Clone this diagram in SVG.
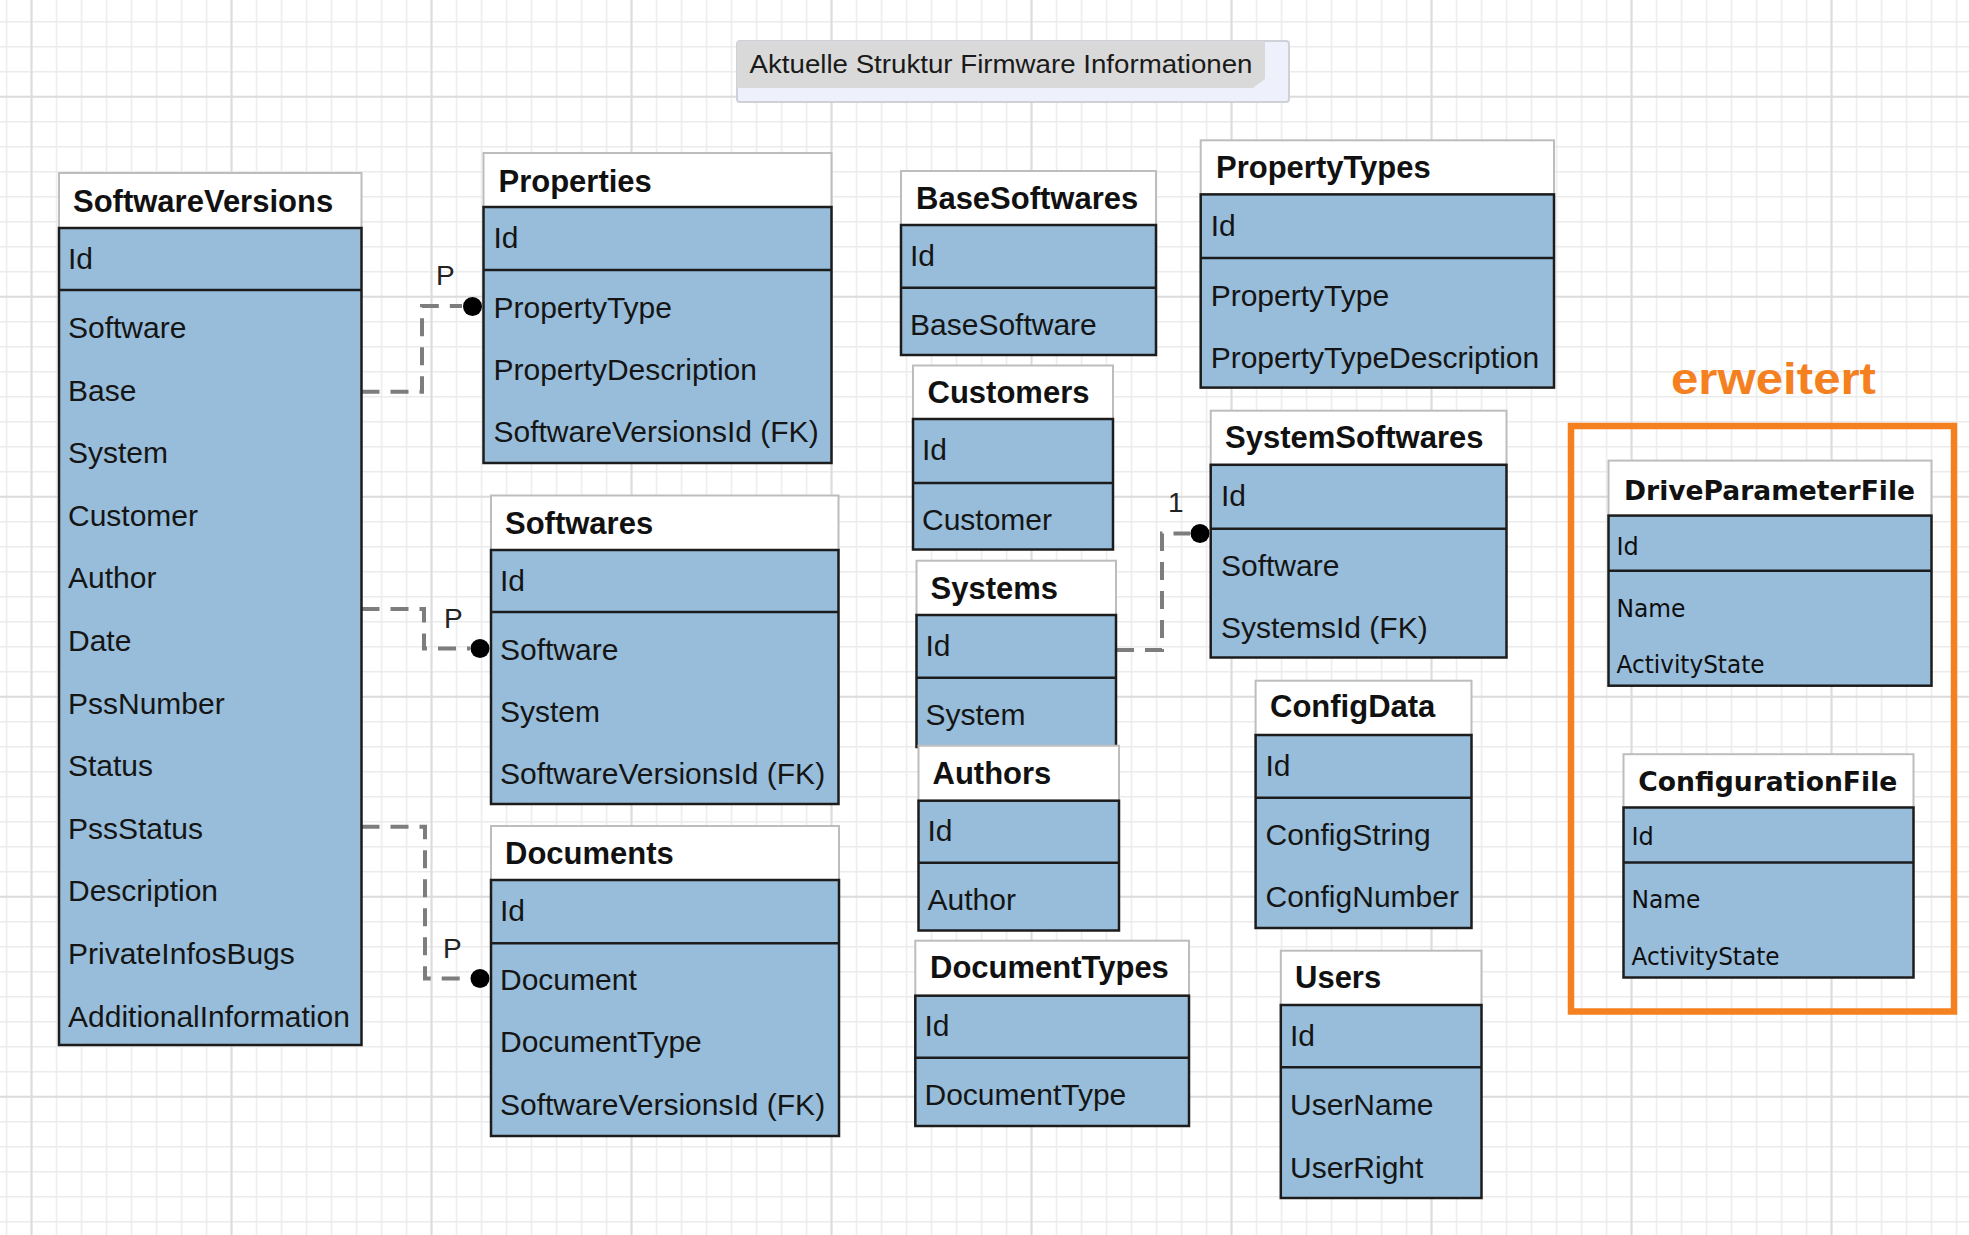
<svg xmlns="http://www.w3.org/2000/svg" width="1969" height="1235" viewBox="0 0 1969 1235">
<defs>
<style>
.hdr{fill:#ffffff;stroke:#bdbdbd;stroke-width:2}
.body{fill:#97bdda;stroke:#1c1c1c;stroke-width:2.5}
.sep{stroke:#1c1c1c;stroke-width:2.5}
.t{font-family:"Liberation Sans",Arial,sans-serif;font-weight:bold;font-size:31px;fill:#111}
.f{font-family:"Liberation Sans",Arial,sans-serif;font-size:30px;fill:#151515}
.t2{font-family:"DejaVu Sans",Verdana,sans-serif;font-weight:bold;font-size:26.5px;fill:#111}
.f2{font-family:"DejaVu Sans",Verdana,sans-serif;font-size:24px;fill:#0f0f0f}
.conn{fill:none;stroke:#7d7d7d;stroke-width:4;stroke-dasharray:18 11}
.dot{fill:#000}
.lbl{font-family:"Liberation Sans",Arial,sans-serif;font-size:28px;fill:#222}
</style>
<pattern id="gMinor" x="5.75" y="21" width="25" height="25" patternUnits="userSpaceOnUse"><path d="M0 0.75H25M0.75 0V25" stroke="#ebebeb" stroke-width="1.5" fill="none"/></pattern>
<pattern id="gMajor" x="30.5" y="95.7" width="200" height="200" patternUnits="userSpaceOnUse"><path d="M0 1H200M1 0V200" stroke="#dcdcdc" stroke-width="2" fill="none"/></pattern>
</defs>
<rect width="1969" height="1235" fill="#ffffff"/>
<rect width="1969" height="1235" fill="url(#gMinor)"/>
<rect width="1969" height="1235" fill="url(#gMajor)"/>

<g id="title">
<rect x="737" y="41" width="552" height="61" rx="3" fill="#eef0fb" stroke="#cfd0d8" stroke-width="2"/>
<path d="M737 41H1265V79L1253 88H737Z" fill="#d9d9d9"/>
<text x="749.5" y="73.3" font-family="Liberation Sans, Arial, sans-serif" font-size="25" fill="#1a1a1a" textLength="503" lengthAdjust="spacingAndGlyphs">Aktuelle Struktur Firmware Informationen</text>
</g>

<g id="connectors">
<path class="conn" d="M361.5 391.7H422V306H462"/>
<circle class="dot" cx="472.5" cy="306.5" r="9.5"/>
<text class="lbl" x="436" y="285">P</text>
<path class="conn" d="M361.5 609H424V648.5H470"/>
<circle class="dot" cx="480" cy="648.5" r="9.5"/>
<text class="lbl" x="444" y="628.3">P</text>
<path class="conn" d="M361.5 826.7H425V978.5H470"/>
<circle class="dot" cx="480" cy="978.5" r="9.5"/>
<text class="lbl" x="443" y="958.3">P</text>
<path class="conn" d="M1116 650H1162V533.5H1190"/>
<circle class="dot" cx="1200" cy="533.5" r="9.5"/>
<text class="lbl" x="1168" y="512">1</text>
</g>

<g id="SoftwareVersions">
<rect class="hdr" x="59" y="173" width="302.5" height="55"/>
<rect class="body" x="59" y="228" width="302.5" height="817"/>
<line class="sep" x1="59" y1="290" x2="361.5" y2="290"/>
<text class="t" x="73" y="211.5">SoftwareVersions</text>
<text class="f" x="68" y="268.5">Id</text>
<text class="f" x="68" y="338">Software</text>
<text class="f" x="68" y="400.6">Base</text>
<text class="f" x="68" y="463.2">System</text>
<text class="f" x="68" y="525.8">Customer</text>
<text class="f" x="68" y="588.4">Author</text>
<text class="f" x="68" y="651">Date</text>
<text class="f" x="68" y="713.6">PssNumber</text>
<text class="f" x="68" y="776.2">Status</text>
<text class="f" x="68" y="838.8">PssStatus</text>
<text class="f" x="68" y="901.4">Description</text>
<text class="f" x="68" y="964">PrivateInfosBugs</text>
<text class="f" x="68" y="1026.6">AdditionalInformation</text>
</g>

<g id="Properties">
<rect class="hdr" x="483.5" y="153" width="348" height="54"/>
<rect class="body" x="483.5" y="207" width="348" height="256"/>
<line class="sep" x1="483.5" y1="270" x2="831.5" y2="270"/>
<text class="t" x="498.5" y="191.5">Properties</text>
<text class="f" x="493.5" y="247.5">Id</text>
<text class="f" x="493.5" y="318.3">PropertyType</text>
<text class="f" x="493.5" y="380">PropertyDescription</text>
<text class="f" x="493.5" y="441.7">SoftwareVersionsId (FK)</text>
</g>

<g id="Softwares">
<rect class="hdr" x="491" y="495.5" width="347.5" height="54.5"/>
<rect class="body" x="491" y="550" width="347.5" height="254"/>
<line class="sep" x1="491" y1="612" x2="838.5" y2="612"/>
<text class="t" x="505" y="533.5">Softwares</text>
<text class="f" x="500" y="590.5">Id</text>
<text class="f" x="500" y="660">Software</text>
<text class="f" x="500" y="722">System</text>
<text class="f" x="500" y="784">SoftwareVersionsId (FK)</text>
</g>

<g id="Documents">
<rect class="hdr" x="491" y="826" width="348" height="54"/>
<rect class="body" x="491" y="880" width="348" height="256"/>
<line class="sep" x1="491" y1="943.3" x2="839" y2="943.3"/>
<text class="t" x="505" y="863.5">Documents</text>
<text class="f" x="500" y="921">Id</text>
<text class="f" x="500" y="990">Document</text>
<text class="f" x="500" y="1052.3">DocumentType</text>
<text class="f" x="500" y="1115">SoftwareVersionsId (FK)</text>
</g>

<g id="BaseSoftwares">
<rect class="hdr" x="901" y="171" width="255" height="54"/>
<rect class="body" x="901" y="225" width="255" height="130"/>
<line class="sep" x1="901" y1="287.7" x2="1156" y2="287.7"/>
<text class="t" x="916" y="208.5">BaseSoftwares</text>
<text class="f" x="910" y="266">Id</text>
<text class="f" x="910" y="335">BaseSoftware</text>
</g>

<g id="Customers">
<rect class="hdr" x="913" y="365.5" width="200" height="53.5"/>
<rect class="body" x="913" y="419" width="200" height="130.5"/>
<line class="sep" x1="913" y1="483" x2="1113" y2="483"/>
<text class="t" x="927.5" y="403.3">Customers</text>
<text class="f" x="922" y="460">Id</text>
<text class="f" x="922" y="530">Customer</text>
</g>

<g id="Systems">
<rect class="hdr" x="916.5" y="560.7" width="199.5" height="54.3"/>
<rect class="body" x="916.5" y="615" width="199.5" height="132"/>
<line class="sep" x1="916.5" y1="677.7" x2="1116" y2="677.7"/>
<text class="t" x="930.5" y="599.3">Systems</text>
<text class="f" x="925.5" y="655.5">Id</text>
<text class="f" x="925.5" y="725">System</text>
</g>

<g id="Authors">
<rect class="hdr" x="918.5" y="745.7" width="200.5" height="55"/>
<rect class="body" x="918.5" y="800.7" width="200.5" height="129.8"/>
<line class="sep" x1="918.5" y1="862.7" x2="1119" y2="862.7"/>
<text class="t" x="932.5" y="783.5">Authors</text>
<text class="f" x="927.5" y="840.5">Id</text>
<text class="f" x="927.5" y="910">Author</text>
</g>

<g id="DocumentTypes">
<rect class="hdr" x="915.3" y="940.7" width="273.7" height="55"/>
<rect class="body" x="915.3" y="995.7" width="273.7" height="130.3"/>
<line class="sep" x1="915.3" y1="1057.7" x2="1189" y2="1057.7"/>
<text class="t" x="930" y="978.3">DocumentTypes</text>
<text class="f" x="924.5" y="1036">Id</text>
<text class="f" x="924.5" y="1105">DocumentType</text>
</g>

<g id="PropertyTypes">
<rect class="hdr" x="1200.7" y="140.3" width="353.3" height="54.1"/>
<rect class="body" x="1200.7" y="194.4" width="353.3" height="193.2"/>
<line class="sep" x1="1200.7" y1="258" x2="1554" y2="258"/>
<text class="t" x="1216" y="178">PropertyTypes</text>
<text class="f" x="1210.7" y="236">Id</text>
<text class="f" x="1210.7" y="306.3">PropertyType</text>
<text class="f" x="1210.7" y="367.6">PropertyTypeDescription</text>
</g>

<g id="SystemSoftwares">
<rect class="hdr" x="1210.7" y="410.7" width="295.8" height="54.1"/>
<rect class="body" x="1210.7" y="464.8" width="295.8" height="192.7"/>
<line class="sep" x1="1210.7" y1="528.8" x2="1506.5" y2="528.8"/>
<text class="t" x="1225" y="447.8">SystemSoftwares</text>
<text class="f" x="1221" y="506">Id</text>
<text class="f" x="1221" y="576">Software</text>
<text class="f" x="1221" y="638">SystemsId (FK)</text>
</g>

<g id="ConfigData">
<rect class="hdr" x="1255.6" y="680.7" width="215.9" height="54.3"/>
<rect class="body" x="1255.6" y="735" width="215.9" height="193"/>
<line class="sep" x1="1255.6" y1="797.7" x2="1471.5" y2="797.7"/>
<text class="t" x="1270" y="716.8">ConfigData</text>
<text class="f" x="1265.5" y="775.5">Id</text>
<text class="f" x="1265.5" y="845">ConfigString</text>
<text class="f" x="1265.5" y="906.7">ConfigNumber</text>
</g>

<g id="Users">
<rect class="hdr" x="1280.8" y="950.7" width="200.7" height="54.3"/>
<rect class="body" x="1280.8" y="1005" width="200.7" height="193"/>
<line class="sep" x1="1280.8" y1="1067.3" x2="1481.5" y2="1067.3"/>
<text class="t" x="1295" y="988.3">Users</text>
<text class="f" x="1290" y="1046">Id</text>
<text class="f" x="1290" y="1115">UserName</text>
<text class="f" x="1290" y="1177.7">UserRight</text>
</g>

<g id="erweitert">
<rect x="1571" y="426" width="383" height="585.5" fill="none" stroke="#f5801f" stroke-width="6.5"/>
<text x="1671" y="394" font-family="Liberation Sans, Arial, sans-serif" font-weight="bold" font-size="44" fill="#f5801f" textLength="205" lengthAdjust="spacingAndGlyphs">erweitert</text>
</g>

<g id="DriveParameterFile">
<rect class="hdr" x="1608.5" y="460.6" width="323" height="55"/>
<rect class="body" x="1608.5" y="515.6" width="323" height="170.1"/>
<line class="sep" x1="1608.5" y1="570.7" x2="1931.5" y2="570.7"/>
<text class="t2" x="1624" y="499.6" textLength="291" lengthAdjust="spacingAndGlyphs">DriveParameterFile</text>
<text class="f2" x="1616.5" y="554.7">Id</text>
<text class="f2" x="1616.5" y="616.7" textLength="69" lengthAdjust="spacingAndGlyphs">Name</text>
<text class="f2" x="1616.5" y="673" textLength="148" lengthAdjust="spacingAndGlyphs">ActivityState</text>
</g>

<g id="ConfigurationFile">
<rect class="hdr" x="1623.5" y="754.2" width="290" height="53.3"/>
<rect class="body" x="1623.5" y="807.5" width="290" height="170"/>
<line class="sep" x1="1623.5" y1="862.6" x2="1913.5" y2="862.6"/>
<text class="t2" x="1638.3" y="791" textLength="259" lengthAdjust="spacingAndGlyphs">ConfigurationFile</text>
<text class="f2" x="1631.5" y="845.3">Id</text>
<text class="f2" x="1631.5" y="908" textLength="69" lengthAdjust="spacingAndGlyphs">Name</text>
<text class="f2" x="1631.5" y="964.5" textLength="148" lengthAdjust="spacingAndGlyphs">ActivityState</text>
</g>
</svg>
